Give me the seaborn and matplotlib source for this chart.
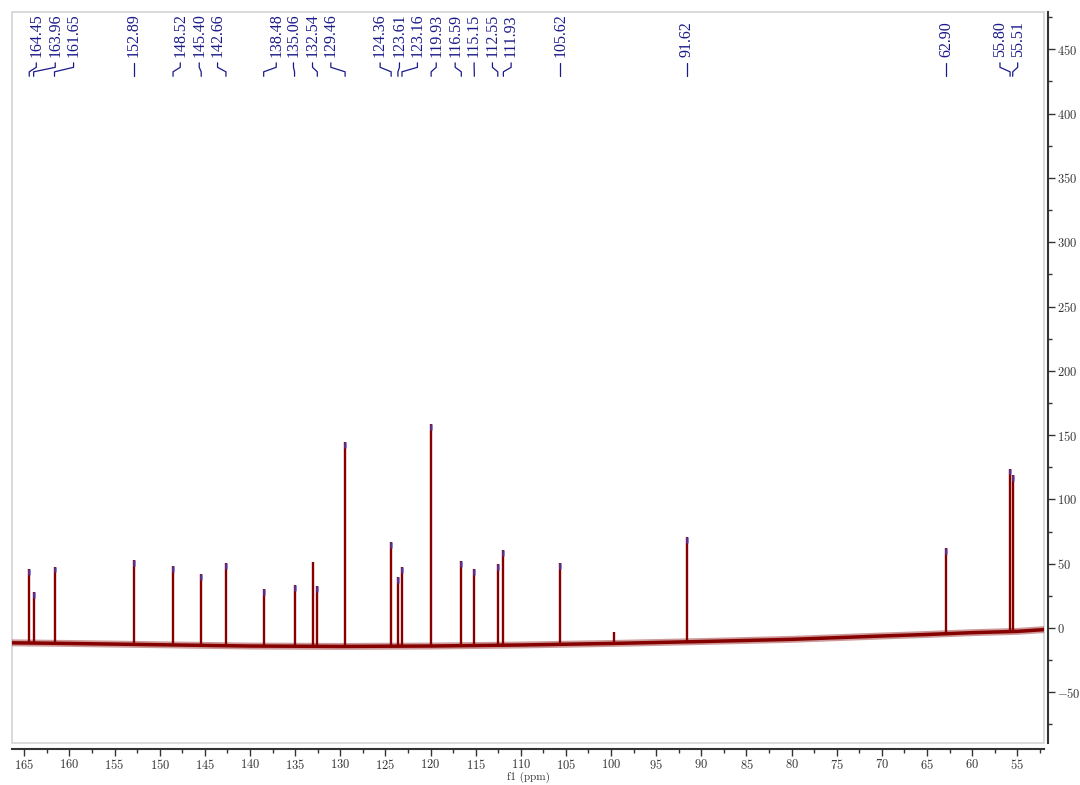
import numpy as np
import pandas as pd
import seaborn as sns
import matplotlib.pyplot as plt
from matplotlib.patches import Rectangle
from matplotlib.ticker import MultipleLocator

# labelled peaks (ppm), their top intensities, and where the label sits (ppm)
peak_ppm = [164.45, 163.96, 161.65, 152.89, 148.52, 145.40, 142.66, 138.48,
            135.06, 132.54, 129.46, 124.36, 123.61, 123.16, 119.93, 116.59,
            115.15, 112.55, 111.93, 105.62, 91.62, 62.90, 55.80, 55.51]
peak_height = [45.6, 28.0, 47.7, 52.9, 48.2, 42.0, 50.3, 30.0,
               33.4, 32.7, 144.6, 66.6, 39.4, 47.2, 158.4, 52.1,
               45.9, 49.8, 60.6, 50.3, 70.8, 62.2, 123.9, 119.0]
label_ppm = [163.67, 161.57, 159.54, 152.89, 147.72, 145.62, 143.59, 137.09,
             135.18, 133.07, 131.04, 125.58, 123.44, 121.45, 119.37, 117.27,
             115.17, 113.14, 111.07, 105.62, 91.62, 62.90, 56.92, 54.96]

# peaks without a label
extra_ppm = [133.00, 99.70]
extra_height = [51.3, -3.1]

# baseline level
baseline_ppm = [166.3, 160, 150, 140, 130, 120, 110, 100, 90, 80, 70, 65, 60, 55, 52.0]
baseline_val = [-11.5, -12.0, -13.0, -14.0, -14.3, -14.0, -13.2, -12.0, -10.5, -8.8, -6.2, -5.0, -3.6, -2.6, -1.2]

red = '#860000'
navy = '#1a1a8a'

sns.set_theme(style='white')
plt.rcParams['font.family'] = ['cmr10', 'DejaVu Serif']
plt.rcParams['mathtext.fontset'] = 'cm'
plt.rcParams['axes.formatter.use_mathtext'] = True

fig = plt.figure(figsize=(10.8, 7.85), dpi=100)
ax = fig.add_axes([0.0111, 0.0535, 0.9556, 0.9312])

base_df = pd.DataFrame({'ppm': baseline_ppm, 'intensity': baseline_val})
sns.lineplot(data=base_df, x='ppm', y='intensity', ax=ax, color=red, lw=5, alpha=0.4)
sns.lineplot(data=base_df, x='ppm', y='intensity', ax=ax, color=red, lw=2.5)

all_ppm = np.array(peak_ppm + extra_ppm)
all_top = np.array(peak_height + extra_height)
stem_base = np.interp(all_ppm, baseline_ppm[::-1], baseline_val[::-1])
ax.vlines(all_ppm, stem_base, all_top, color=red, lw=1.7)

# blue peak-pick marks at the tops
tops = np.array(peak_height)
ax.vlines(peak_ppm, tops - 4.5, tops, color='#4a4ad0', lw=2.0, alpha=0.65)

# labels with connector lines
for p, lp in zip(peak_ppm, label_ppm):
    ax.text(lp, 444, f'{p:.2f}', rotation=90, ha='center', va='bottom',
            fontsize=11.5, family='Liberation Serif', color=navy)
    ax.plot([lp, lp, p, p], [439.5, 436.0, 432.5, 429.0], color=navy, lw=0.9)

ax.set_xlim(166.36, 52.04)
ax.set_ylim(-89.4, 479)

ax.xaxis.set_major_locator(MultipleLocator(5))
ax.xaxis.set_minor_locator(MultipleLocator(2.5))
ax.yaxis.set_major_locator(MultipleLocator(50))
ax.yaxis.set_minor_locator(MultipleLocator(25))
ax.yaxis.tick_right()

for side in ['left', 'top']:
    ax.spines[side].set_visible(False)
ax.spines['right'].set_position(('outward', 3))
ax.spines['bottom'].set_position(('outward', 4))
for side in ['right', 'bottom']:
    ax.spines[side].set_color('#333333')
    ax.spines[side].set_linewidth(1.5)

ax.add_patch(Rectangle((0, 0), 1, 1, transform=ax.transAxes, fill=False,
                       edgecolor='#d4d4d4', lw=1.2, clip_on=False))

ax.tick_params(axis='both', which='major', direction='out', length=5, width=1,
               color='#333333', labelsize=9, labelcolor='#333333', pad=1.5,
               bottom=True, right=True, left=False)
ax.tick_params(axis='both', which='minor', direction='out', length=3, width=1,
               color='#333333', bottom=True, right=True, left=False)

ax.set_xlabel('f1 (ppm)', fontsize=8, color='#333333', labelpad=0)
ax.set_ylabel('')

fig.savefig('out.png', dpi=100)
